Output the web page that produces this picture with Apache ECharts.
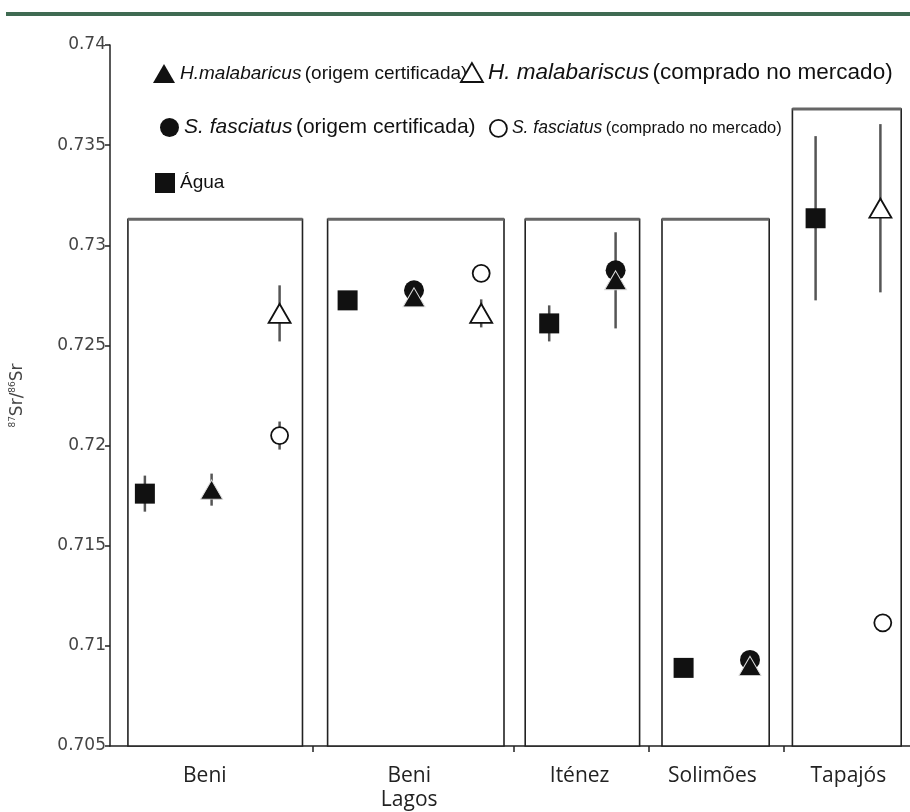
<!DOCTYPE html>
<html>
<head>
<meta charset="utf-8">
<script src="https://cdn.jsdelivr.net/npm/echarts@6/dist/echarts.min.js"></script>
<style>html,body{margin:0;padding:0;background:#fff}#c{width:910px;height:812px}</style>
</head>
<body>
<div id="c"></div>
<script>
// ---- data ----
const groups = ['Beni', 'Beni\nLagos', 'Iténez', 'Solimões', 'Tapajós'];
const groupLabelX = [11.85, 37.4, 58.7, 75.3, 92.3];
const groupSeparators = [25.3, 50.5, 67.3, 84.2];
const boxLeft = [2.24, 27.2, 51.9, 69.0, 85.3];
const boxRight = [24.06, 49.25, 66.2, 82.4, 98.9];
const boxTop = [0.7313, 0.7313, 0.7313, 0.7313, 0.7368];

const yTicks = [0.705, 0.71, 0.715, 0.72, 0.725, 0.73, 0.735, 0.74];

const aguaX = [4.36, 29.7, 54.9, 71.7, 88.2];
const aguaY = [0.7176, 0.72725, 0.7261, 0.7089, 0.73135];
const aguaErr = [0.0009, 0, 0.0009, 0, 0.0041];

const hmalCertX = [12.7, 38.0, 63.2, 80.0];
const hmalCertY = [0.7178, 0.7274, 0.72825, 0.7090];
const hmalCertErr = [0.0008, 0, 0.0024, 0];

const sfascCertX = [38.0, 63.2, 80.0];
const sfascCertY = [0.72775, 0.72875, 0.7093];
const sfascCertErr = [0, 0, 0];

const hmalMarketX = [21.2, 46.4, 96.3];
const hmalMarketY = [0.7266, 0.7266, 0.73185];
const hmalMarketErr = [0.0014, 0.0007, 0.0042];

const sfascMarketX = [21.2, 46.4, 96.6];
const sfascMarketY = [0.7205, 0.7286, 0.71115];
const sfascMarketErr = [0.0007, 0, 0];

// ---- build ----
const pts = (xs, ys) => xs.map((x, i) => [x, ys[i]]);
const errs = [];
[[aguaX, aguaY, aguaErr], [hmalCertX, hmalCertY, hmalCertErr], [sfascCertX, sfascCertY, sfascCertErr],
 [hmalMarketX, hmalMarketY, hmalMarketErr], [sfascMarketX, sfascMarketY, sfascMarketErr]].forEach(([xs, ys, es]) => {
  xs.forEach((x, i) => { if (es[i] > 0) errs.push([x, ys[i] - es[i], ys[i] + es[i]]); });
});
const boxes = groups.map((g, i) => [boxLeft[i], boxRight[i], boxTop[i]]);

const legendFont = 'Liberation Sans, Arial, sans-serif';
const richLegend = {
  i: { fontStyle: 'italic', fontSize: 19, fontFamily: legendFont, color: '#111' },
  n: { fontSize: 19, fontFamily: legendFont, color: '#111' },
  bi: { fontStyle: 'italic', fontSize: 21, fontFamily: legendFont, color: '#111' },
  bn: { fontSize: 21, fontFamily: legendFont, color: '#111' },
  ci: { fontStyle: 'italic', fontSize: 22.5, fontFamily: legendFont, color: '#111' },
  cn: { fontSize: 22.5, fontFamily: legendFont, color: '#111' },
  si: { fontStyle: 'italic', fontSize: 17.5, fontFamily: legendFont, color: '#111' },
  s: { fontSize: 16.5, fontFamily: legendFont, color: '#111' }
};
const legendLabels = {
  'H.malabaricus (origem certificada)': '{i|H.malabaricus} {n|(origem certificada)}',
  'H. malabariscus (comprado no mercado)': '{ci|H. malabariscus} {cn|(comprado no mercado)}',
  'S. fasciatus (origem certificada)': '{bi|S. fasciatus} {bn|(origem certificada)}',
  'S. fasciatus (comprado no mercado)': '{si|S. fasciatus} {s|(comprado no mercado)}',
  'Água': '{n|Água}'
};
function mkLegend(name, left, top, icon, w, h, itemStyle) {
  return {
    left: left, top: top, selectedMode: false, itemWidth: w, itemHeight: h,
    data: [{ name: name, icon: icon, itemStyle: itemStyle }],
    formatter: n => legendLabels[n],
    textStyle: { rich: richLegend }
  };
}

const chart = echarts.init(document.getElementById('c'), null, { renderer: 'canvas' });
chart.setOption({
  animation: false,
  backgroundColor: '#fff',
  grid: { left: 108, right: 0, top: 45, bottom: 65, containLabel: false },
  graphic: [{
    type: 'rect', left: 6, top: 12, shape: { width: 904, height: 4 },
    style: { fill: '#3f6b52' }, z: 100
  }],
  legend: [
    mkLegend('H.malabaricus (origem certificada)', 148, 59, 'triangle', 22, 19, { color: '#111', borderWidth: 0 }),
    mkLegend('H. malabariscus (comprado no mercado)', 455, 56, 'triangle', 22, 19, { color: '#fff', borderColor: '#111', borderWidth: 1.8 }),
    mkLegend('S. fasciatus (origem certificada)', 155, 112, 'circle', 19, 19, { color: '#111', borderWidth: 0 }),
    mkLegend('S. fasciatus (comprado no mercado)', 484, 114, 'circle', 17, 17, { color: '#fff', borderColor: '#111', borderWidth: 1.8 }),
    mkLegend('Água', 150, 168, 'rect', 20, 20, { color: '#111', borderWidth: 0 })
  ],
  xAxis: {
    type: 'value', min: 0, max: 100,
    splitLine: { show: false },
    axisLine: { show: true, onZero: false, lineStyle: { color: '#222', width: 1.5 } },
    axisTick: { show: true, customValues: groupSeparators, length: 6, inside: false, lineStyle: { color: '#222', width: 1.5 } },
    axisLabel: {
      customValues: groupLabelX, margin: 18,
      formatter: v => { const i = groupLabelX.findIndex(p => Math.abs(p - v) < 0.01); return i >= 0 ? groups[i] : ''; },
      fontFamily: 'Open Sans, Lato, sans-serif', fontSize: 21, color: '#222', lineHeight: 24
    }
  },
  yAxis: {
    type: 'value', min: 0.705, max: 0.74, interval: 0.005,
    splitLine: { show: false },
    axisLine: { show: true, lineStyle: { color: '#222', width: 1.5 } },
    axisTick: { show: true, length: 5, lineStyle: { color: '#222', width: 1.5 } },
    axisLabel: {
      formatter: v => String(+v.toFixed(3)),
      fontFamily: 'DejaVu Sans, sans-serif', fontSize: 17, color: '#444', margin: 4
    },
    name: '{sup|87}{b|Sr/}{sup|86}{b|Sr}',
    nameLocation: 'middle', nameRotate: 90, nameGap: 84,
    nameTextStyle: {
      rich: {
        sup: { fontSize: 9, fontFamily: 'DejaVu Sans, sans-serif', color: '#444', verticalAlign: 'top', lineHeight: 18 },
        b: { fontSize: 17, fontFamily: 'DejaVu Sans, sans-serif', color: '#444', verticalAlign: 'bottom', lineHeight: 18 }
      }
    }
  },
  series: [
    {
      type: 'custom', name: 'boxes', z: 1, silent: true,
      data: boxes,
      renderItem: (params, api) => {
        const p1 = api.coord([api.value(0), api.value(2)]);
        const p2 = api.coord([api.value(1), 0.705]);
        return {
          type: 'group', children: [
            { type: 'rect', shape: { x: p1[0], y: p1[1], width: p2[0] - p1[0], height: p2[1] - p1[1] },
              style: { fill: '#fff', stroke: '#222', lineWidth: 1.6 } },
            { type: 'line', shape: { x1: p1[0], y1: p1[1], x2: p2[0], y2: p1[1] },
              style: { stroke: '#666', lineWidth: 3 } }
          ]
        };
      }
    },
    {
      type: 'custom', name: 'errors', z: 2, silent: true,
      data: errs,
      renderItem: (params, api) => {
        const a = api.coord([api.value(0), api.value(1)]);
        const b = api.coord([api.value(0), api.value(2)]);
        return { type: 'line', shape: { x1: a[0], y1: a[1], x2: b[0], y2: b[1] }, style: { stroke: '#555', lineWidth: 2.5 } };
      }
    },
    { type: 'scatter', name: 'Água', z: 3, data: pts(aguaX, aguaY), symbol: 'rect', symbolSize: 20,
      itemStyle: { color: '#111', opacity: 1 } },
    { type: 'scatter', name: 'S. fasciatus (origem certificada)', z: 3, data: pts(sfascCertX, sfascCertY), symbol: 'circle', symbolSize: 20,
      itemStyle: { color: '#111', opacity: 1 } },
    { type: 'scatter', name: 'H.malabaricus (origem certificada)', z: 4, data: pts(hmalCertX, hmalCertY), symbol: 'triangle', symbolSize: [22, 19],
      itemStyle: { color: '#111', borderColor: '#ddd', borderWidth: 1, opacity: 1 } },
    { type: 'scatter', name: 'H. malabariscus (comprado no mercado)', z: 4, data: pts(hmalMarketX, hmalMarketY), symbol: 'triangle', symbolSize: [22, 19],
      itemStyle: { color: '#fff', borderColor: '#111', borderWidth: 1.8, opacity: 1 } },
    { type: 'scatter', name: 'S. fasciatus (comprado no mercado)', z: 4, data: pts(sfascMarketX, sfascMarketY), symbol: 'circle', symbolSize: 17,
      itemStyle: { color: '#fff', borderColor: '#111', borderWidth: 1.8, opacity: 1 } }
  ]
});
</script>
</body>
</html>
